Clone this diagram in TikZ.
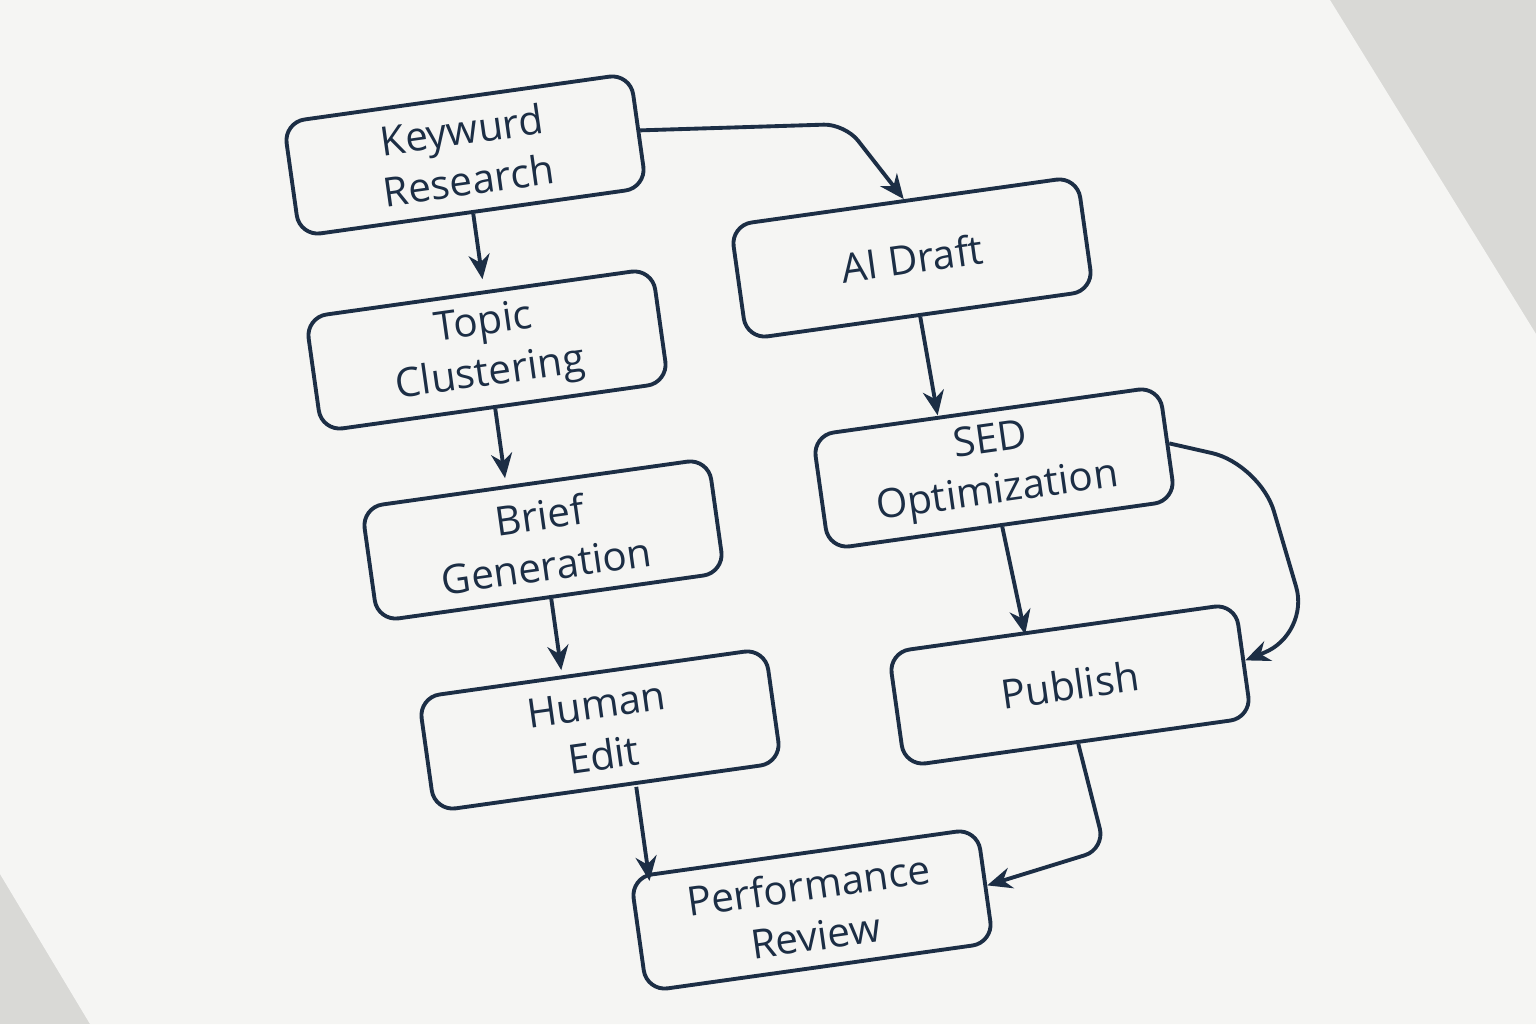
\documentclass[tikz,border=0pt]{standalone}
\usepackage{fontspec}
\setmainfont{Open Sans}
\usetikzlibrary{arrows.meta}
\definecolor{ink}{HTML}{1C2E45}
\definecolor{paper}{HTML}{F5F5F3}
\definecolor{bg}{HTML}{D9D9D6}
\begin{document}
\begin{tikzpicture}[
 box/.style={draw=ink,line width=1.1pt,rounded corners=6pt,minimum width=3.5cm,minimum height=1.15cm,align=center,rotate=8,text=ink,font=\fontsize{11.5}{14.5}\selectfont,fill=paper},
 arr/.style={draw=ink,line width=1.1pt,-{Stealth[length=7pt,width=6pt]}}]
\useasboundingbox (0,0) rectangle (15.36,10.24);
\fill[bg] (0,0) rectangle (15.36,10.24);
\fill[paper] (0,9.4) -- (0,10.24) -- (13.3,10.24) -- (15.36,6.9) -- (15.36,0) -- (0.9,0) -- (0,1.5) -- cycle;
\node[box] (K) at (4.65,8.69) {Keywurd\\Research};
\node[box] (T) at (4.87,6.74) {Topic\\Clustering};
\node[box] (B) at (5.43,4.84) {Brief\\Generation};
\node[box] (H) at (6.00,2.94) {Human\\Edit};
\node[box] (P) at (8.12,1.14) {Performance\\Review};
\node[box] (A) at (9.12,7.66) {AI Draft};
\node[box] (S) at (9.94,5.56) {SED\\Optimization};
\node[box] (U) at (10.70,3.39) {Publish};
\coordinate (k1) at (8.45,9.0);
\coordinate (s1) at (12.6,5.6);
\coordinate (s2) at (13.1,3.9);
\coordinate (u1) at (11.05,1.75);
\draw[arr] (K.south) -- ++(-82:0.66);
\draw[arr] (T.south) -- ++(-82:0.7);
\draw[arr] (B.south) -- ++(-82:0.72);
\draw[arr] (H.south) ++(0.28,0.02) coordinate (h0) -- ++(-82:0.95);
\draw[arr, rounded corners=6pt] (K.east) -- (k1) -- (A.north);
\draw[arr] (A.south) -- ++(-80:1.0);
\draw[arr] (S.south) -- ++(-78:1.1);
\draw[arr, rounded corners=14pt] (S.east) -- (s1) -- (s2) -- (U.east);
\draw[arr, rounded corners=6pt] (U.south) -- (u1) -- (P.east);
\end{tikzpicture}
\end{document}
